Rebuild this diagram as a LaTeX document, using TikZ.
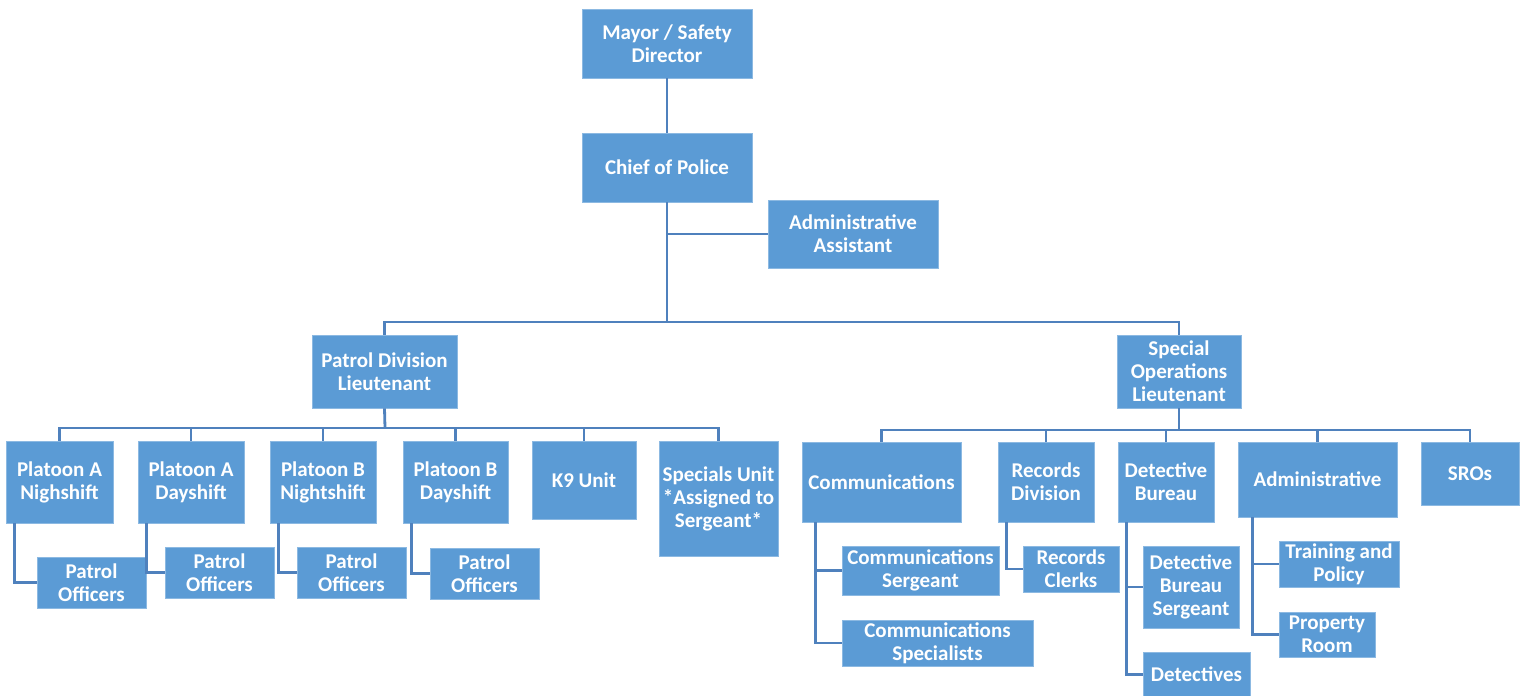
\documentclass[tikz,border=0pt]{standalone}
\usepackage{fontspec}
\setmainfont{Carlito}
\definecolor{boxfill}{HTML}{5B9BD5}
\definecolor{linecol}{HTML}{4F81BD}
\tikzset{
  box/.style={fill=boxfill, draw=boxfill!70!white, line width=0.8pt, text=white, inner sep=0pt, align=center,
    font=\fontsize{21}{23}\selectfont\bfseries},
  conn/.style={draw=linecol, line width=2.8pt}
}
\newcommand{\bx}[6]{\node[box, minimum width={(#4-#2)*1pt}, minimum height={(#5-#3)*1pt}] (#1) at ({(#2+#4)/2},{(#3+#5)/2}) {#6};}
\begin{document}
\begin{tikzpicture}[x=1pt,y=-1pt]
\useasboundingbox (0,0) rectangle (1526,696);
% top
\bx{mayor}{582}{9}{752}{78}{Mayor / Safety\\Director}
\bx{chief}{582}{133}{752}{202}{Chief of Police}
\bx{aa}{768}{200}{938}{268}{Administrative\\Assistant}
\bx{pd}{312}{335}{457}{408}{Patrol Division\\Lieutenant}
\bx{so}{1117}{335}{1241}{408}{Special\\Operations\\Lieutenant}
% patrol
\bx{p1}{6}{441}{113}{523}{Platoon A\\Nighshift}
\bx{p2}{138}{441}{244}{523}{Platoon A\\Dayshift}
\bx{p3}{270}{441}{376}{523}{Platoon B\\Nightshift}
\bx{p4}{403}{441}{508}{523}{Platoon B\\Dayshift}
\bx{k9}{532}{441}{636}{519}{K9 Unit}
\bx{sp}{659}{441}{778}{556}{Specials Unit\\*Assigned to\\Sergeant*}
\bx{po1}{37}{557}{146}{608}{Patrol\\Officers}
\bx{po2}{165}{547}{274}{598}{Patrol\\Officers}
\bx{po3}{297}{547}{406}{598}{Patrol\\Officers}
\bx{po4}{430}{548}{539}{599}{Patrol\\Officers}
% special ops
\bx{comm}{802}{442}{961}{522}{Communications}
\bx{rec}{998}{442}{1094}{522}{Records\\Division}
\bx{det}{1118}{442}{1214}{522}{Detective\\Bureau}
\bx{adm}{1238}{442}{1397}{517}{Administrative}
\bx{sro}{1421}{442}{1519}{505}{SROs}
\bx{csgt}{842}{546}{999}{595}{Communications\\Sergeant}
\bx{cspec}{842}{620}{1033}{666}{Communications\\Specialists}
\bx{rc}{1023}{546}{1119}{592}{Records\\Clerks}
\bx{dbs}{1143}{546}{1239}{628}{Detective\\Bureau\\Sergeant}
\bx{dets}{1143}{652}{1250}{697}{Detectives}
\bx{tp}{1279}{541}{1399}{587}{Training and\\Policy}
\bx{pr}{1279}{612}{1375}{657}{Property\\Room}
% connectors
\coordinate (b1) at (667,322);
\coordinate (b2) at (385,428);
\coordinate (b3) at (1179,430);
\draw[conn] (mayor.south) -- (chief.north);
\draw[conn] (chief.south) -- (chief.south |- b1);
\draw[conn] (chief.south |- aa.west) -- (aa.west);
\draw[conn] (pd.north) |- (b1) -| (so.north);
\draw[conn] (pd.south) -- (b2);
\draw[conn] (p1.north) |- (b2) -| (sp.north);
\draw[conn] (p2.north) -- (p2.north |- b2);
\draw[conn] (p3.north) -- (p3.north |- b2);
\draw[conn] (p4.north) -- (p4.north |- b2);
\draw[conn] (k9.north) -- (k9.north |- b2);
\draw[conn] ([xshift=9pt]p1.south west) |- (po1.west);
\draw[conn] ([xshift=9pt]p2.south west) |- (po2.west);
\draw[conn] ([xshift=9pt]p3.south west) |- (po3.west);
\draw[conn] ([xshift=9pt]p4.south west) |- (po4.west);
\draw[conn] (so.south) -- (b3);
\draw[conn] (comm.north) |- (b3) -| (sro.north);
\draw[conn] (rec.north) -- (rec.north |- b3);
\draw[conn] (det.north) -- (det.north |- b3);
\draw[conn] (adm.north) -- (adm.north |- b3);
\draw[conn] ([xshift=14pt]comm.south west) |- (cspec.west);
\draw[conn] ([xshift=14pt]comm.south west |- csgt.west) -- (csgt.west);
\draw[conn] ([xshift=9pt]rec.south west) |- (rc.west);
\draw[conn] ([xshift=9pt]det.south west) |- (dets.west);
\draw[conn] ([xshift=9pt]det.south west |- dbs.west) -- (dbs.west);
\draw[conn] ([xshift=15pt]adm.south west) |- (pr.west);
\draw[conn] ([xshift=15pt]adm.south west |- tp.west) -- (tp.west);
\end{tikzpicture}
\end{document}
